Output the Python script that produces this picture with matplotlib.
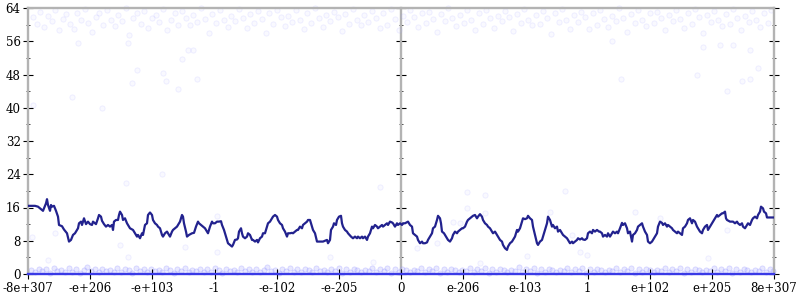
import matplotlib
matplotlib.use("Agg")
import matplotlib.pyplot as plt
from matplotlib.ticker import MultipleLocator

# x is a bin index across the whole (signed) float range: 0 .. 746
X_MAX = 746
tick_labels = ["-8e+307", "-e+206", "-e+103", "-1", "-e-102", "-e-205", "0",
               "e-206", "e-103", "1", "e+102", "e+205", "8e+307"]

profile = [
    (0,16.4),(7,16.4),(10,16.2),(14,15.4),(15,15.2),(18,17.0),(19,18.0),(20,16.6),(22,15.2),(23,16.6),
    (24,16.2),(26,16.4),(28,15.2),(30,13.8),(31,11.8),(34,11.5),(36,10.7),(39,9.8),(41,7.8),(43,8.2),
    (45,9.4),(47,9.8),(50,11.0),(51,12.2),(53,12.6),(54,11.8),(56,13.4),(58,12.0),(60,12.6),(62,12.0),
    (64,11.8),(65,12.6),(68,12.0),(70,13.4),(71,14.2),(73,13.8),(74,12.8),(76,12.0),(78,11.4),(80,11.8),
    (82,11.4),(84,11.8),(85,10.6),(86,12.6),(88,13.0),(90,13.0),(91,14.2),
    (92,15.0),(94,14.2),(95,13.0),(97,13.4),(99,12.2),(100,11.8),(102,11.0),(105,10.6),(107,9.8),(109,9.0),
    (110,9.4),(112,8.6),(114,9.8),(115,9.4),(117,11.8),(119,12.2),(120,14.2),(122,14.8),(124,14.2),(125,13.0),
    (127,12.2),(129,11.8),(130,11.4),(132,11.0),(134,9.4),(135,9.0),(137,9.8),(139,10.2),(140,9.8),(142,9.0),
    (144,10.2),(145,10.6),(147,11.0),(149,11.4),(150,11.8),(152,12.6),(154,14.2),(155,13.8),(156,12.2),(158,10.2),
    (159,9.0),(161,9.4),(164,9.8),(166,9.9),(168,11.4),(170,12.6),(171,12.2),(173,11.8),(175,11.4),(177,11.0),
    (179,10.2),(180,9.8),(182,11.4),(184,12.6),(185,12.2),
    (187,12.2),(189,12.6),(191,12.6),(193,12.7),(194,11.8),(196,10.6),(198,9.0),(200,7.4),(202,7.0),(204,6.6),
    (205,7.0),(207,8.2),(209,8.3),(210,8.6),(211,10.2),(213,11.0),(214,9.8),(215,9.0),(217,8.6),(219,9.0),
    (220,9.8),(222,9.4),(224,8.2),(225,8.2),(227,7.8),(229,8.2),(230,7.6),(232,8.6),(234,9.0),(235,9.8),
    (237,9.8),(239,11.4),(240,12.2),(242,12.6),(244,13.4),(245,13.8),(247,14.2),(249,13.8),(250,13.0),(252,12.2),
    (254,11.8),(255,11.0),(257,10.2),(259,9.0),(260,9.8),(262,9.8),(264,9.9),(265,9.8),(267,10.2),(269,10.6),
    (270,10.6),(272,11.4),(274,11.0),(275,11.8),(277,12.2),(279,12.6),(280,13.0),
    (282,13.0),(284,11.4),(285,10.6),(287,9.8),(289,7.8),(292,7.8),(295,7.8),(299,8.2),(300,7.4),(302,8.2),
    (303,10.6),(305,11.4),(306,12.2),(308,11.8),(309,13.0),(311,13.8),(313,14.0),(314,12.2),(315,11.4),(317,10.6),
    (319,10.2),(320,9.8),(323,9.0),(325,8.6),(327,9.0),(329,8.6),(330,9.0),(332,8.6),(334,9.0),(335,8.6),
    (337,9.0),(339,8.2),(340,9.0),(342,9.8),(344,11.4),(345,11.0),(347,11.8),(349,11.4),(350,11.0),(352,11.4),
    (354,11.8),(355,11.4),(357,11.8),(359,12.2),(360,11.8),(362,12.6),(364,12.4),(365,12.2),(367,11.4),(369,12.2),
    (370,11.8),(372,12.2),(374,11.8),(375,12.2),
    (377,12.2),(380,12.6),(382,11.8),(384,11.4),(385,9.8),(387,9.4),(389,9.0),(390,8.2),(392,7.4),(394,7.8),
    (395,7.4),(397,7.4),(399,7.6),(400,8.2),(402,9.0),(404,9.8),(405,11.0),(407,11.4),(409,13.0),(410,14.0),
    (412,13.4),(413,12.2),(414,10.2),(416,9.8),(418,9.0),(420,8.2),(422,7.8),(424,8.6),(425,9.4),(427,10.2),
    (429,9.8),(430,10.2),(432,10.6),(434,11.0),(435,11.0),(437,11.4),(439,12.6),(440,13.0),(442,13.4),(444,13.8),
    (445,14.0),(447,14.2),(449,13.4),(450,13.8),(452,14.4),(454,13.8),(455,13.0),(457,12.2),(459,11.8),(460,11.4),
    (462,11.0),(464,10.2),(465,9.8),(467,10.2),(469,9.4),(470,9.0),
    (472,8.2),(474,7.8),(475,7.0),(477,6.2),(479,5.8),(480,6.6),(482,7.4),(484,7.8),(485,8.2),(487,9.0),
    (489,10.6),(490,10.2),(492,11.0),(494,12.6),(495,13.4),(497,13.2),(499,13.4),(500,14.0),(502,13.4),(504,13.0),
    (505,11.4),(507,9.4),(509,7.4),(510,7.0),(512,7.8),(514,8.2),(515,9.0),(517,10.6),(519,12.2),(520,13.8),
    (522,13.0),(524,11.4),(525,11.8),(527,11.0),(529,11.4),(530,10.2),(532,10.6),(534,9.8),(535,9.4),(537,9.0),
    (539,8.6),(540,8.2),(542,7.4),(544,7.8),(545,7.4),(547,7.8),(549,8.2),(550,8.6),(552,8.3),(554,8.6),
    (555,8.3),(557,8.2),(559,8.6),(560,9.8),(562,10.2),(564,9.8),(565,10.6),(567,10.2),(569,10.6),(571,10.2),
    (572,10.2),(574,9.8),(575,9.0),(577,9.4),(579,9.0),(580,9.8),(582,9.0),(584,9.8),(585,10.2),(587,9.8),
    (589,10.2),(590,9.8),(592,11.0),(594,12.3),(595,11.8),(597,12.2),(599,11.0),(600,9.8),(602,10.2),(604,7.8),
    (605,9.4),(607,9.8),(609,10.6),(610,11.4),(612,11.8),(614,12.2),(615,11.4),(617,10.2),(619,9.4),(620,7.8),
    (622,7.4),(624,7.8),(625,8.2),(627,9.0),(629,9.8),(630,11.4),(632,12.6),(634,12.3),(635,11.8),(637,12.2),
    (639,11.4),(640,11.8),(642,11.4),(644,11.0),(645,10.6),(647,10.2),(649,9.8),(650,10.2),(652,9.8),(654,9.4),
    (655,11.0),(657,11.4),(659,12.2),(660,13.0),(662,13.4),(664,12.2),(665,13.0),(667,12.6),(669,11.4),(670,11.0),
    (672,10.2),(674,9.8),(675,10.6),(677,11.4),(679,11.8),(680,10.6),(682,11.4),(684,12.2),(687,13.4),(689,14.2),
    (690,13.8),(692,14.2),(694,14.6),(695,14.6),(697,15.0),(698,13.4),(699,13.0),(702,12.6),(705,12.6),(707,12.2),
    (709,12.6),(710,12.2),(712,11.8),(714,12.2),(715,11.4),(717,11.0),(719,11.8),(720,12.2),(722,11.8),(724,13.0),
    (725,13.4),(727,13.8),(729,13.4),(730,14.2),(732,15.0),(733,16.2),(735,15.8),(736,15.0),(738,14.6),(739,13.6),
    (742,13.6),(745,13.6),
]

top_samples = [
    (5,61.8),(9,60.2),(12,63.1),(16,59.5),(20,62.0),(24,60.9),(27,63.6),(31,58.8),(35,61.3),(38,62.6),
    (42,60.1),(46,59.0),(49,62.9),(53,61.0),(57,63.8),(60,60.4),(64,58.3),(68,61.9),(71,62.8),(75,60.0),
    (79,63.4),(83,61.2),(87,59.6),(90,62.3),(94,60.8),(98,63.9),(101,57.6),(105,61.5),(109,62.7),(113,60.2),
    (116,63.2),(120,59.3),(124,61.7),(128,62.4),(131,60.6),(135,63.7),(139,58.6),(143,61.1),(147,62.9),(150,60.0),
    (154,63.3),(158,61.6),(162,59.8),(165,62.2),(169,60.7),(173,63.9),(177,61.4),(181,58.1),(184,62.6),(188,60.3),
    (192,63.5),(196,61.0),(200,59.4),(203,62.1),(207,60.9),(211,63.8),(215,61.7),(219,59.1),(222,62.5),(226,60.5),
    (230,63.2),(234,61.3),(238,57.9),(241,62.8),(245,60.1),(249,63.6),(253,61.9),(257,59.7),(260,62.0),(264,60.6),
    (268,63.4),(272,61.2),(276,58.9),(279,62.7),(283,60.4),(287,63.9),(291,61.5),(295,59.5),(298,62.3),(302,60.8),
    (306,63.1),(310,61.8),(314,58.4),(317,62.6),(321,60.2),(325,63.7),(329,61.1),(333,59.9),(336,62.4),(340,60.7),
    (344,63.3),(348,61.6),(352,59.2),(355,62.9),(359,60.0),(363,63.8),(367,61.3),(371,58.7),(375,62.1),(379,60.6),
    (382,63.5),(386,61.9),(390,59.4),(394,62.8),(398,60.3),(401,63.0),(405,61.4),(409,58.2),(413,62.5),(417,60.9),
    (420,63.9),(424,61.7),(428,59.6),(432,62.2),(436,60.4),(439,63.4),(443,61.0),(447,58.8),(451,62.7),(455,60.1),
    (458,63.6),(462,61.5),(466,59.3),(470,62.0),(474,60.8),(477,63.2),(481,61.8),(485,58.5),(489,62.6),(493,60.5),
    (496,63.8),(500,61.2),(504,59.8),(508,62.4),(512,60.2),(515,63.3),(519,61.6),(523,57.8),(527,62.9),(531,60.7),
    (534,63.7),(538,61.1),(542,59.0),(546,62.3),(550,60.6),(553,63.1),(557,61.9),(561,58.9),(565,62.8),(569,60.0),
    (572,63.5),(576,61.3),(580,59.5),(584,62.1),(588,60.9),(591,63.9),(595,61.7),(599,58.3),(603,62.5),(607,60.3),
    (610,63.4),(614,61.0),(618,59.7),(622,62.7),(626,60.4),(629,63.0),(633,61.5),(637,58.6),(641,62.2),(645,60.8),
    (648,63.6),(652,61.4),(656,59.2),(660,62.9),(664,60.1),(667,63.8),(671,61.8),(675,58.0),(679,62.4),(683,60.6),
    (686,63.2),(690,61.2),(694,59.6),(698,62.6),(702,60.2),(705,63.7),(709,61.6),(713,58.8),(717,62.0),(721,60.7),
    (724,63.3),(728,61.1),(732,59.4),(736,62.8),(740,60.5),(743,63.6),
]

bottom_samples = [
    (3,0.9),(7,0.4),(11,1.3),(14,0.7),(18,1.1),(22,0.3),(26,1.5),(29,0.8),(33,1.0),(37,0.5),
    (41,1.4),(44,0.6),(48,1.2),(52,0.3),(56,0.9),(59,1.6),(63,0.7),(67,1.1),(71,0.4),(74,1.3),
    (78,0.8),(82,1.0),(86,0.5),(89,1.5),(93,0.6),(97,1.2),(101,0.9),(104,0.3),(108,1.4),(112,0.7),
    (116,1.1),(119,0.4),(123,1.3),(127,0.8),(131,1.0),(134,0.6),(138,1.5),(142,0.9),(146,0.3),(149,1.2),
    (153,0.7),(157,1.4),(161,0.5),(164,1.0),(168,0.8),(172,1.3),(176,0.4),(179,1.1),(183,0.6),(187,1.5),
    (191,0.9),(194,0.3),(198,1.2),(202,0.7),(206,1.0),(209,0.5),(213,1.4),(217,0.8),(221,1.1),(224,0.4),
    (228,1.3),(232,0.6),(236,0.9),(239,1.6),(243,0.7),(247,1.0),(251,0.3),(254,1.2),(258,0.8),(262,1.4),
    (266,0.5),(269,1.1),(273,0.6),(277,1.3),(281,0.9),(284,0.4),(288,1.5),(292,0.7),(296,1.0),(299,0.5),
    (303,1.2),(307,0.8),(311,1.4),(314,0.3),(318,1.1),(322,0.6),(326,1.3),(329,0.9),(333,0.4),(337,1.0),
    (341,0.7),(344,1.5),(348,0.5),(352,1.2),(356,0.8),(359,1.4),(363,0.3),(367,1.1),(371,0.6),(374,1.3),
    (378,0.9),(382,0.4),(386,1.0),(389,0.7),(393,1.5),(397,0.5),(401,1.2),(404,0.8),(408,1.4),(412,0.3),
    (416,1.1),(419,0.6),(423,1.3),(427,0.9),(431,0.4),(434,1.0),(438,0.7),(442,1.5),(446,0.5),(449,1.2),
    (453,0.8),(457,1.4),(461,0.3),(464,1.1),(468,0.6),(472,1.3),(476,0.9),(479,0.4),(483,1.0),(487,0.7),
    (491,1.6),(494,0.5),(498,1.2),(502,0.8),(506,1.4),(509,0.3),(513,1.1),(517,0.6),(521,1.3),(524,0.9),
    (528,0.4),(532,1.0),(536,0.7),(539,1.5),(543,0.5),(547,1.2),(551,0.8),(554,1.4),(558,0.3),(562,1.1),
    (566,0.6),(569,1.3),(573,0.9),(577,0.4),(581,1.0),(584,0.7),(588,1.5),(592,0.5),(596,1.2),(599,0.8),
    (603,1.4),(607,0.3),(611,1.1),(614,0.6),(618,1.3),(622,0.9),(626,0.4),(629,1.0),(633,0.7),(637,1.5),
    (641,0.5),(644,1.2),(648,0.8),(652,1.4),(656,0.3),(659,1.1),(663,0.6),(667,1.3),(671,0.9),(674,0.4),
    (678,1.0),(682,0.7),(686,1.5),(689,0.5),(693,1.2),(697,0.8),(701,1.4),(704,0.3),(708,1.1),(712,0.6),
    (716,1.3),(719,0.9),(723,0.4),(727,1.0),(731,0.7),(734,1.5),(738,0.5),(742,1.2),(745,0.8),
]

sparse_samples = [
    (44,42.6),(109,49.0),(104,46.0),(135,48.4),(138,46.5),(154,51.7),(150,44.5),(169,47.0),(5,40.7),(74,40.0),
    (134,24.0),(98,21.9),(4,9.0),(27,9.8),(20,3.4),(92,7.0),(100,4.0),(157,6.5),(352,21.0),(345,2.9),
    (439,19.7),(457,19.0),(425,12.5),(389,6.3),(409,7.5),(457,14.7),(452,2.6),(593,47.0),(669,48.0),(699,44.0),
    (714,46.5),(722,47.0),(730,49.6),(675,54.6),(692,55.0),(705,55.0),(584,56.0),(722,54.0),(607,15.0),(632,13.5),
    (699,10.6),(680,3.8),(522,15.0),(499,4.3),(544,9.4),(552,5.3),(559,4.5),(537,20.0),(439,15.9),(432,12.3),
    (189,14.0),(189,5.3),(302,4.0),(50,55.5),(100,55.6),(160,54.0),(165,53.8),
]

plt.rcParams['font.family'] = ['DejaVu Serif']

fig = plt.figure(figsize=(8, 3), dpi=100)
pos = [28/800, 26/300, 746/800, 266/300]
ax = fig.add_axes(pos)
ax.set_xlim(0, X_MAX)
ax.set_ylim(0, 64)

def unzip(p):
    return [a for a, b in p], [b for a, b in p]

faint_fc = (0.78, 0.78, 1.0, 0.10)
faint_ec = (0.60, 0.60, 1.0, 0.16)
for pts, fc, ec in [(top_samples, faint_fc, faint_ec),
                    (sparse_samples, faint_fc, faint_ec),
                    (bottom_samples, (0.70, 0.70, 1.0, 0.30), (0.55, 0.55, 1.0, 0.30))]:
    xs, ys = unzip(pts)
    ax.scatter(xs, ys, s=14, facecolors=[fc], edgecolors=[ec], linewidths=0.6, zorder=1, clip_on=False)

lx, ly = unzip(profile)
ax.plot(lx, ly, color='#22228e', lw=1.6, zorder=3)

grey = '#b3b3b3'
for s in ['left', 'right', 'top']:
    ax.spines[s].set_color(grey)
    ax.spines[s].set_linewidth(1.7)
ax.spines['bottom'].set_color('#3a3ae6')
ax.spines['bottom'].set_linewidth(1.7)
for s in ax.spines.values():
    s.set_zorder(2)

ax.set_xticks([X_MAX * k / 12 for k in range(13)])
ax.set_xticklabels(tick_labels)
ax.yaxis.set_major_locator(MultipleLocator(8))
ax.yaxis.set_minor_locator(MultipleLocator(4))
ax.tick_params(axis='both', which='major', direction='inout', length=6.5, width=0.8,
               color='black', labelsize=8.5, pad=2)
ax.tick_params(axis='y', which='minor', direction='inout', length=3.5, width=0.7, color='#444444')
ax.tick_params(axis='y', which='both', right=True, labelright=False)
ax.tick_params(axis='x', which='major', pad=2.5)

# central axis at x = 0
axc = fig.add_axes(pos, facecolor='none')
axc.set_ylim(0, 64)
axc.set_xticks([])
for s in ['right', 'top', 'bottom']:
    axc.spines[s].set_visible(False)
axc.spines['left'].set_position(('axes', 0.5))
axc.spines['left'].set_color(grey)
axc.spines['left'].set_linewidth(1.7)
axc.yaxis.set_major_locator(MultipleLocator(8))
axc.yaxis.set_minor_locator(MultipleLocator(4))
axc.tick_params(axis='y', which='major', direction='inout', length=6.5, width=0.8, color='black', labelleft=False)
axc.tick_params(axis='y', which='minor', direction='inout', length=3.5, width=0.7, color='#444444', labelleft=False)
axc.set_zorder(0)
ax.set_zorder(1)
ax.patch.set_visible(False)

fig.savefig('out.png', dpi=100)
